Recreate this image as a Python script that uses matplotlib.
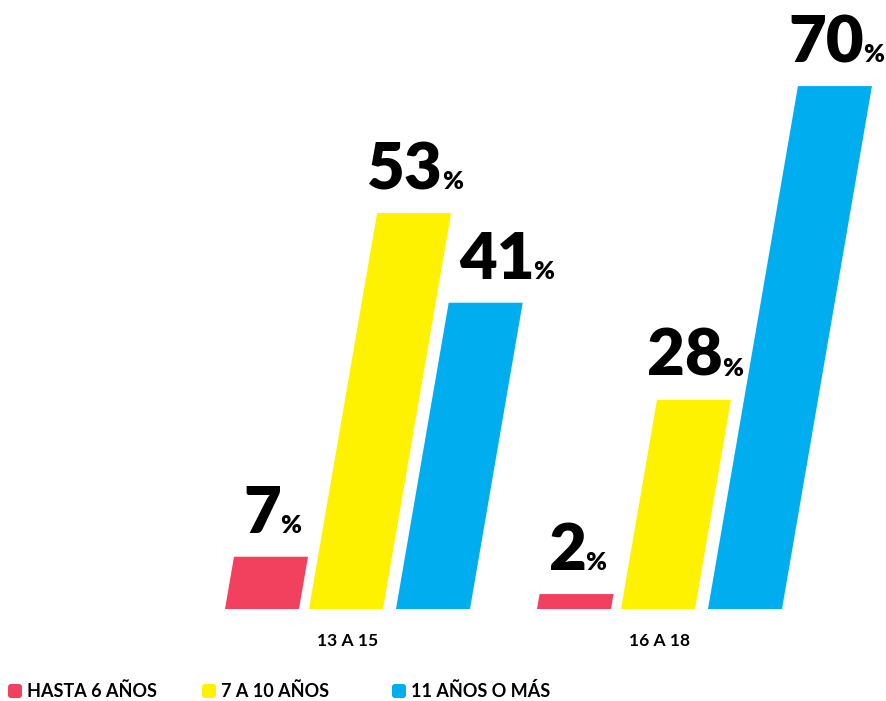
import matplotlib.pyplot as plt
from matplotlib.patches import FancyBboxPatch
from matplotlib.transforms import IdentityTransform

groups = ['13 A 15', '16 A 18']
series = ['HASTA 6 AÑOS', '7 A 10 AÑOS', '11 AÑOS O MÁS']
colors = ['#F2415F', '#FFF200', '#00AEEF']
values = [[7, 53, 41], [2, 28, 70]]

W, H = 886, 701
px_per_pct = 7.47      # vertical scale
base_px = 92           # baseline height from bottom
slant = 0.172          # horizontal shift per vertical pixel
bar_w = 74
offsets = [0, 84, 171]
group_left = [225, 537]
nudge = {(0, 2): 20}   # label pushed right so it clears the yellow bar

fig = plt.figure(figsize=(W / 100, H / 100), dpi=100)
ax = fig.add_axes([0, 0, 1, 1])
ax.set_xlim(0, W)
ax.set_ylim(-base_px / px_per_pct, (H - base_px) / px_per_pct)
ax.axis('off')

num_font = dict(family='Lato', fontweight='heavy', fontsize=47, color='black')
pct_font = dict(family='Lato', fontweight='heavy', fontsize=18, color='black')
r = fig.canvas.get_renderer()
gap = -1

for g, vals in enumerate(values):
    for s, v in enumerate(vals):
        x0 = group_left[g] + offsets[s]
        dx = slant * v * px_per_pct
        ax.fill([x0, x0 + bar_w, x0 + bar_w + dx, x0 + dx], [0, 0, v, v],
                color=colors[s], lw=0)
        # value label centred over the top edge
        cx = x0 + dx + bar_w / 2 + 1 + nudge.get((g, s), 0)
        y = v + 24 / px_per_pct
        t1 = ax.text(cx, y, str(v), ha='left', va='baseline', **num_font)
        t2 = ax.text(cx, y, '%', ha='left', va='baseline', **pct_font)
        w1 = t1.get_window_extent(r).width
        w2 = t2.get_window_extent(r).width
        left = cx - (w1 + gap + w2) / 2
        t1.set_x(left)
        t2.set_x(left + w1 + gap)
    gc = group_left[g] + (offsets[-1] + bar_w) / 2
    ax.annotate(groups[g], (gc, 0), xytext=(0, -32), textcoords='offset pixels',
                ha='center', va='center', family='Lato', fontweight='bold',
                fontsize=12.5)

# legend
leg_x = [8, 202, 392]
for i, name in enumerate(series):
    fig.add_artist(FancyBboxPatch((leg_x[i], 3), 14, 14,
                                  boxstyle='round,pad=0,rounding_size=3',
                                  fc=colors[i], ec='none',
                                  transform=IdentityTransform()))
    fig.text(leg_x[i] + 19, 10, name, transform=IdentityTransform(),
             ha='left', va='center', family='Lato', fontweight='bold',
             fontsize=13)

fig.savefig('out.png', dpi=100)
